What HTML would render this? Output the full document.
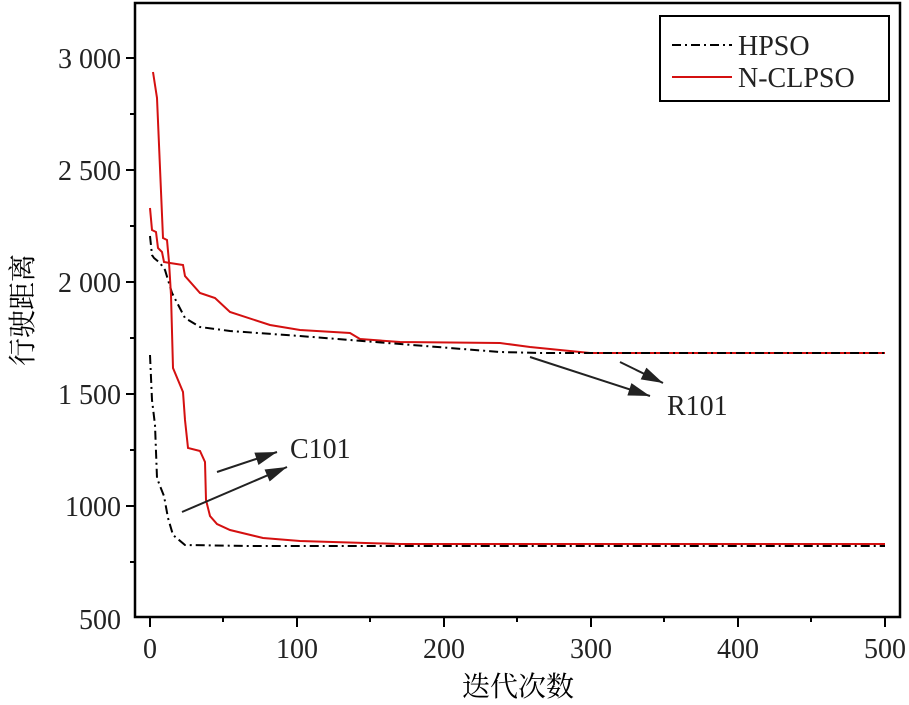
<!DOCTYPE html><html><head><meta charset="utf-8"><style>body{margin:0;background:#fff}</style></head><body>
<svg width="909" height="700" xmlns="http://www.w3.org/2000/svg" font-family="Liberation Serif, serif" font-size="28">
<defs><marker id="b" viewBox="0 0 20 12" markerWidth="22" markerHeight="13" refX="20" refY="6" orient="auto" markerUnits="userSpaceOnUse"><path d="M0,0 L20,6 L0,12 Z" fill="#222"/></marker></defs>
<rect x="135" y="3" width="765" height="614" fill="none" stroke="#000" stroke-width="2.5"/>
<g stroke="#000" stroke-width="2">
<line x1="126" y1="58" x2="135" y2="58"/><line x1="126" y1="170" x2="135" y2="170"/><line x1="126" y1="282" x2="135" y2="282"/><line x1="126" y1="394" x2="135" y2="394"/><line x1="126" y1="506" x2="135" y2="506"/>
<line x1="130" y1="114" x2="135" y2="114"/><line x1="130" y1="226" x2="135" y2="226"/><line x1="130" y1="338" x2="135" y2="338"/><line x1="130" y1="450" x2="135" y2="450"/><line x1="130" y1="562" x2="135" y2="562"/>
<line x1="150" y1="617" x2="150" y2="627"/><line x1="297" y1="617" x2="297" y2="627"/><line x1="444" y1="617" x2="444" y2="627"/><line x1="591" y1="617" x2="591" y2="627"/><line x1="738" y1="617" x2="738" y2="627"/><line x1="885" y1="617" x2="885" y2="627"/>
<line x1="223" y1="617" x2="223" y2="622"/><line x1="370" y1="617" x2="370" y2="622"/><line x1="517" y1="617" x2="517" y2="622"/><line x1="664" y1="617" x2="664" y2="622"/><line x1="811" y1="617" x2="811" y2="622"/>
</g>
<g text-anchor="end" fill="#222"><text x="121" y="68">3 000</text><text x="121" y="180">2 500</text><text x="121" y="292">2 000</text><text x="121" y="404">1 500</text><text x="121" y="516">1000</text><text x="121" y="629">500</text></g>
<g text-anchor="middle" fill="#222"><text x="150" y="658">0</text><text x="297" y="658">100</text><text x="444" y="658">200</text><text x="591" y="658">300</text><text x="738" y="658">400</text><text x="885" y="658">500</text></g>
<text x="518" y="696" text-anchor="middle" font-family="Noto Serif CJK SC, serif">迭代次数</text>
<text transform="translate(32,310) rotate(-90)" text-anchor="middle" font-family="Noto Serif CJK SC, serif">行驶距离</text>
<g fill="none" stroke-width="2">
<polyline stroke="#d41010" points="150,208 152,230 156,232 158,248 162,252 164,262 170,263 183,265 185,276 200,293 215,298 230,312 270,325 300,330 350,333 360,339 400,342 500,343 530,347 560,350 590,353 885,353"/>
<polyline stroke="#000" stroke-dasharray="9,4,2,4" points="150,236 152,255 154,258 160,263 165,270 172,293 185,318 200,327 230,331 300,336 500,352 540,353 885,353"/>
<polyline stroke="#d41010" points="153,72 157,98 163,238 167,240 169,262 171,295 173,368 183,392 185,420 188,448 200,451 205,462 206,500 210,516 217,524 230,530 263,538 300,541 400,544 885,544"/>
<polyline stroke="#000" stroke-dasharray="9,4,2,4" points="150,355 152,400 155,425 157,478 160,486 164,496 168,518 173,535 185,545 250,546 885,546"/>
<g stroke="#222"><line x1="217" y1="472" x2="277" y2="452" marker-end="url(#b)"/><line x1="182" y1="512" x2="287" y2="467" marker-end="url(#b)"/>
<line x1="530" y1="357" x2="650" y2="396" marker-end="url(#b)"/><line x1="620" y1="362" x2="663" y2="383" marker-end="url(#b)"/></g>
</g>
<text x="290" y="458" fill="#222">C101</text><text x="667" y="415" fill="#222">R101</text>
<rect x="660" y="16" width="229" height="85" fill="#fff" stroke="#000" stroke-width="2"/>
<line x1="672" y1="45" x2="732" y2="45" stroke="#000" stroke-width="2" stroke-dasharray="9,4,2,4"/>
<line x1="672" y1="77" x2="732" y2="77" stroke="#d41010" stroke-width="2"/>
<text x="738" y="55" fill="#222">HPSO</text><text x="738" y="87" fill="#222">N-CLPSO</text>
</svg></body></html>
